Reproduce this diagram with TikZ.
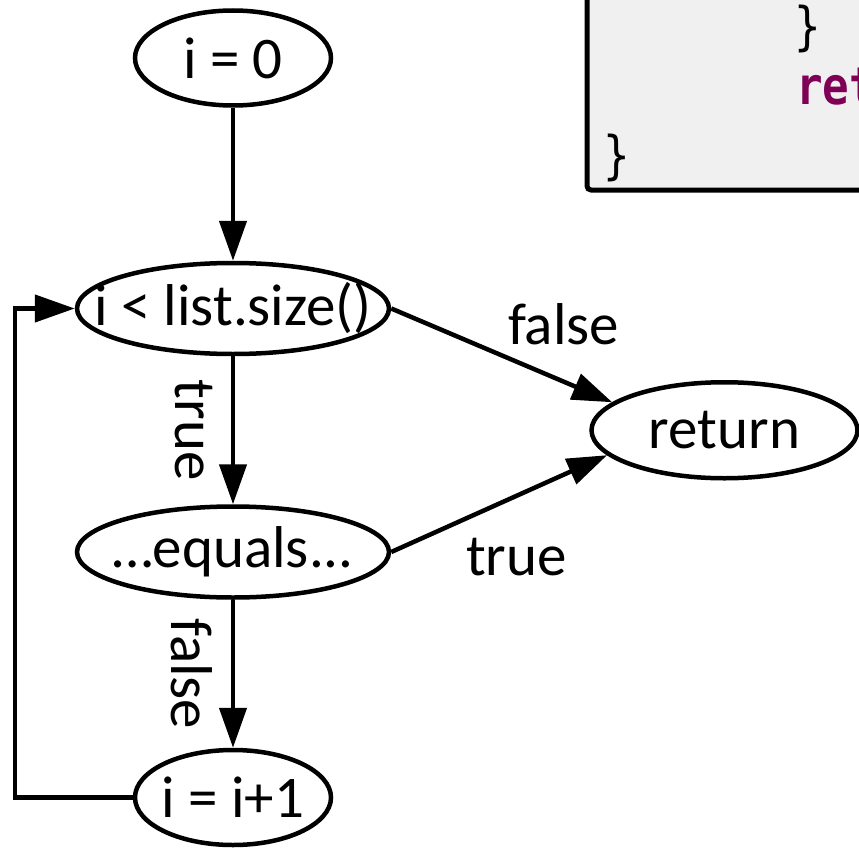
\documentclass[tikz,border=0pt]{standalone}
\usepackage{fontspec}
\setmainfont{Carlito}
\newfontfamily\codefont[FakeStretch=0.85]{DejaVu Sans Mono}
\definecolor{CodeGray}{RGB}{240,240,240}
\definecolor{KeywordPurple}{RGB}{127,0,85}
\usetikzlibrary{arrows.meta,positioning,shapes.geometric,calc}

\begin{document}
\begin{tikzpicture}[x=1pt, y=-1pt, node distance=148pt,
  every node/.style={font=\fontsize{59pt}{61pt}\selectfont, inner sep=0pt},
  state/.style={draw, ellipse, line width=4.5pt, inner xsep=-125pt, minimum width=196pt, minimum height=95pt},
  wide/.style={minimum width=312pt, minimum height=91pt},
  flow/.style={-{Triangle[length=40pt, width=27pt]}, line width=4.5pt},
  vlabel/.style={rotate=-90, anchor=north, inner sep=18pt},
  code/.style={font=\fontsize{52pt}{54pt}\codefont, anchor=base west}]
\useasboundingbox (0,0) rectangle (859,848);
\clip (0,0) rectangle (859,848);
\draw[line width=5pt, rounded corners=4pt, fill=CodeGray] (587,190) rectangle (900,-40);
\node[code] (brace1) at (794,45) {\}};
\node[code, text=KeywordPurple, font=\fontsize{52pt}{54pt}\codefont\bfseries] (kw) at (796,105) {ret};
\node[code] (brace2) at (603,173) {\}};
\node[state] (init) at (233,58) {i = 0};
\node[state, wide, below=153pt of init] (cond) {i < list.size()};
\node[state, wide, below=of cond] (eq) {…equals...};
\node[state, below=of eq] (inc) {i = i+1};
\coordinate (mid) at ($(cond.east)!0.5!(eq.east)$);
\node[state, minimum width=266pt, minimum height=96pt, right=198pt of mid] (ret) {return};
\draw[flow] (init) -- (cond);
\draw[flow] (cond) -- node[vlabel]{true} (eq);
\draw[flow] (eq) -- node[vlabel]{false} (inc);
\draw[flow] (cond.east) -- node[pos=0.78, above=34pt]{false} (ret.166);
\draw[flow] (eq.east) -- node[pos=0.58, below=40pt]{true} (ret.192);
\draw[flow] (inc.west) -- ++(-118,0) |- (cond.west);
\end{tikzpicture}
\end{document}
